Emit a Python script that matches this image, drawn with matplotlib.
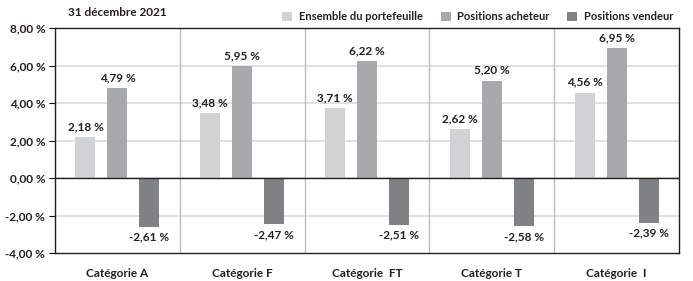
import matplotlib.pyplot as plt
import numpy as np

categories = ["Catégorie A", "Catégorie F", "Catégorie  FT", "Catégorie T", "Catégorie  I"]
ensemble = [2.18, 3.48, 3.71, 2.62, 4.56]
acheteur = [4.79, 5.95, 6.22, 5.20, 6.95]
vendeur = [-2.61, -2.47, -2.51, -2.58, -2.39]
series_names = ["Ensemble du portefeuille", "Positions acheteur", "Positions vendeur"]
colors = ["#d1d2d4", "#a7a9ac", "#808285"]
yticks = [-4, -2, 0, 2, 4, 6, 8]

plt.rcParams["font.family"] = ["Lato", "DejaVu Sans"]
plt.rcParams["font.weight"] = "bold"

fig = plt.figure(figsize=(6.93, 2.81), dpi=100)
ax = fig.add_axes([55 / 693, 28 / 281, 624 / 693, 225 / 281])

x = np.arange(len(categories))
w = 0.16
off = 0.256
for i, (vals, c) in enumerate(zip([ensemble, acheteur, vendeur], colors)):
    pos = x + (i - 1) * off
    ax.bar(pos, vals, width=w, color=c, label=series_names[i], zorder=3)
    for p, v in zip(pos, vals):
        txt = f"{v:.2f} %".replace(".", ",")
        if v >= 0:
            ax.text(p, v + 0.25, txt, ha="center", va="bottom", fontsize=8.5, color="#231f20")
        else:
            ax.text(p, v - 0.25, txt, ha="center", va="top", fontsize=8.5, color="#231f20")

ax.set_xlim(-0.5, len(categories) - 0.5)
ax.set_ylim(-4, 8)
ax.set_yticks(yticks)
ax.set_yticklabels([f"{t:.2f} %".replace(".", ",") for t in yticks], fontsize=8.5, color="#231f20")
ax.set_xticks(x)
ax.set_xticklabels(categories, fontsize=8.5, color="#231f20")
ax.tick_params(axis="x", length=0, pad=11)
ax.tick_params(axis="y", length=4, width=0.8, direction="out", pad=3)

for yv in yticks[1:-1]:
    ax.axhline(yv, color="#d9dadb", lw=1.2, zorder=1)
ax.axhline(0, color="#231f20", lw=1, zorder=4)
for xv in x[:-1] + 0.5:
    ax.axvline(xv, color="#bcbec0", lw=1, zorder=1)
for s in ax.spines.values():
    s.set_color("#231f20")
    s.set_linewidth(1)

fig.text(68 / 693, 1 - 12 / 281, "31 décembre 2021", fontsize=8.5, va="center", color="#231f20")
leg = ax.legend(loc="lower right", bbox_to_anchor=(1.0, 1.0), ncol=3, frameon=False,
                fontsize=8, handlelength=0.9, handleheight=0.9, handletextpad=0.6,
                columnspacing=1.6, borderaxespad=0.2, borderpad=0.3)
for t in leg.get_texts():
    t.set_color("#231f20")

fig.savefig("out.png", dpi=100)
